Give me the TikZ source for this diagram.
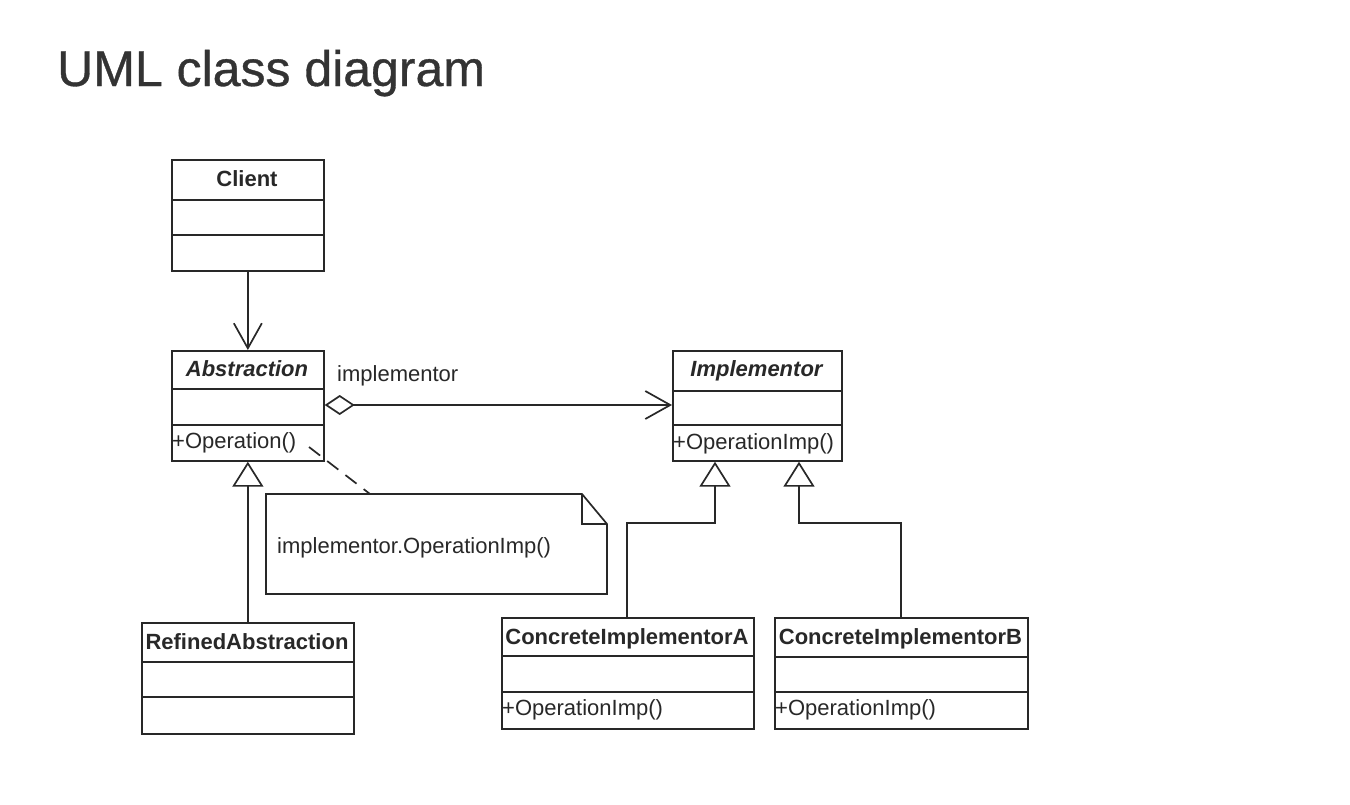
\documentclass[tikz,border=0pt]{standalone}
\usepackage{fontspec}
\setmainfont{Liberation Sans}
\newfontfamily\titlefont[FakeBold=0.7]{Liberation Sans}
\usetikzlibrary{arrows.meta,calc}
\definecolor{ink}{RGB}{40,40,40}
\definecolor{titleink}{RGB}{51,51,51}
\tikzset{
  ln/.style={draw=ink, line width=1.7pt},
  classbox/.style={ln, rectangle, inner sep=0pt, anchor=north west, fill=white},
  ctitle/.style={font=\fontsize{22}{26}\selectfont\bfseries, text=ink, inner sep=0pt, anchor=base},
  atitle/.style={font=\fontsize{22}{26}\selectfont\bfseries\itshape, text=ink, inner sep=0pt, anchor=base},
  member/.style={font=\fontsize{22}{26}\selectfont, text=ink, inner sep=0pt, anchor=base west},
  assoc/.style={ln, -{Straight Barb[length=25pt,width=28pt]}},
  aggr/.style={ln, {Diamond[open,length=30pt,width=20pt]}-{Straight Barb[length=25pt,width=28pt]}},
  inherit/.style={ln, -{Triangle[open,length=25pt,width=31pt]}},
  notelink/.style={ln, dash pattern=on 14pt off 9pt}
}
\begin{document}
\begin{tikzpicture}[x=1pt,y=-1pt]
\useasboundingbox (0,0) rectangle (1350,804);

% Title
\node[font=\titlefont\fontsize{50}{58}\selectfont, text=titleink, inner sep=0pt, anchor=base west] (title) at (57,86) {UML class diagram};

% Client
\node[classbox, minimum width=152pt, minimum height=111pt] (client) at (171,159) {};
\draw[ln] (171,200) -- (323,200);
\draw[ln] (171,235) -- (323,235);
\node[ctitle] (clientname) at (247,186) {Client};

% Abstraction
\node[classbox, minimum width=152pt, minimum height=110pt] (abstraction) at (171,350) {};
\draw[ln] (171,389) -- (323,389);
\draw[ln] (171,425) -- (323,425);
\node[atitle] (abstractionname) at (247,376) {Abstraction};
\node[member] (abstractionop) at (172,448) {+Operation()};

% Implementor
\node[classbox, minimum width=169pt, minimum height=110pt] (implementor) at (672,350) {};
\draw[ln] (672,391) -- (841,391);
\draw[ln] (672,425) -- (841,425);
\node[atitle] (implementorname) at (756.5,376) {Implementor};
\node[member] (implementorop) at (673,449) {+OperationImp()};

% RefinedAbstraction
\node[classbox, minimum width=212pt, minimum height=111pt] (refined) at (141,622) {};
\draw[ln] (141,662) -- (353,662);
\draw[ln] (141,697) -- (353,697);
\node[ctitle] (refinedname) at (247,649) {RefinedAbstraction};

% ConcreteImplementorA
\node[classbox, minimum width=252pt, minimum height=111pt] (concretea) at (501,617) {};
\draw[ln] (501,656) -- (753,656);
\draw[ln] (501,692) -- (753,692);
\node[ctitle] (concreteaname) at (627,644) {ConcreteImplementorA};
\node[member] (concreteaop) at (502,715) {+OperationImp()};

% ConcreteImplementorB
\node[classbox, minimum width=253pt, minimum height=111pt] (concreteb) at (774,617) {};
\draw[ln] (774,657) -- (1027,657);
\draw[ln] (774,692) -- (1027,692);
\node[ctitle] (concretebname) at (900.5,644) {ConcreteImplementorB};
\node[member] (concretebop) at (775,715) {+OperationImp()};

% Note
\draw[ln, fill=white] (266,494) -- (582,494) -- (607,524) -- (607,594) -- (266,594) -- cycle;
\draw[ln] (582,494) -- (582,524) -- (607,524);
\node[member] (notetext) at (277,553) {implementor.OperationImp()};
\coordinate (notetop) at (370,494);
\coordinate (opanchor) at (309,447);

% Connectors
\draw[assoc] (client.south) -- (abstraction.north);
\draw[aggr] (abstraction.east |- 0,405) -- (implementor.west |- 0,405);
\node[font=\fontsize{22}{26}\selectfont, text=ink, inner sep=0pt, anchor=base west] (rolelabel) at (337,381) {implementor};
\draw[inherit] (refined.north) -- (abstraction.south);
\draw[inherit] (concretea.north -| 627,0) -- (627,523) -- (715,523) -- (implementor.south -| 715,0);
\draw[inherit] (concreteb.north -| 901,0) -- (901,523) -- (799,523) -- (implementor.south -| 799,0);
\draw[notelink] (opanchor) -- (notetop);
\end{tikzpicture}
\end{document}
